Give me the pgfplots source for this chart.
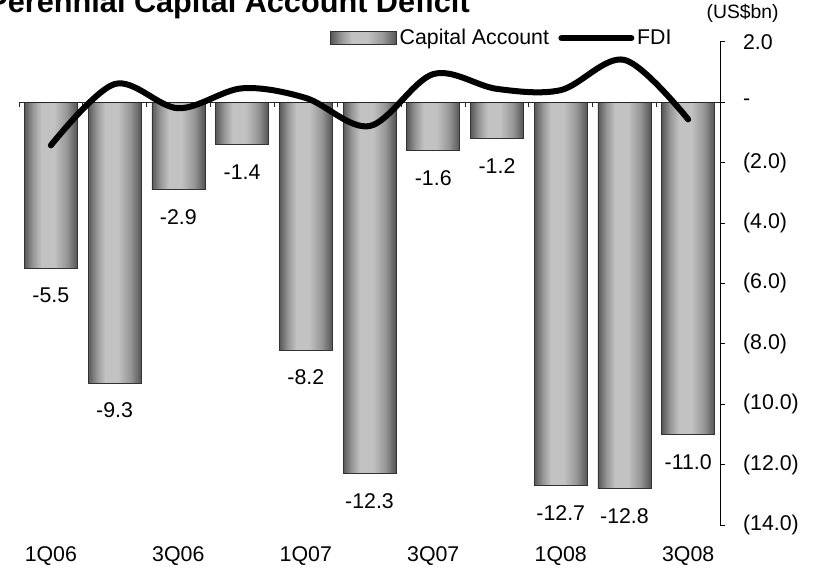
\documentclass[border=0pt]{standalone}
\usepackage{fontspec}
\setmainfont{Liberation Sans}
\usepackage{pgfplots}
\pgfplotsset{compat=1.18}

\definecolor{barL}{RGB}{88,88,88}
\definecolor{barM}{RGB}{150,150,150}
\definecolor{barH}{RGB}{194,194,194}
\definecolor{barM2}{RGB}{150,150,150}
\definecolor{barR}{RGB}{84,84,84}
\pgfdeclarehorizontalshading{barshade}{100bp}{color(0bp)=(barL); color(25bp)=(barL); color(33bp)=(barM); color(41bp)=(barH); color(53bp)=(barH); color(65bp)=(barM2); color(75bp)=(barR); color(100bp)=(barR)}

\pgfplotsset{
  cabar/.style={ybar, bar width=39.75pt, bar shift=0pt, draw=black!80, line width=0.5pt,
    shade, shading=barshade, forget plot,
    nodes near coords, point meta=explicit symbolic,
    every node near coord/.append style={anchor=center, yshift=-20.5pt, text=black}},
  fdiline/.style={black, line width=4.5pt, line cap=round, smooth, tension=0.55,
    legend image code/.code={\draw[##1] (0pt,0pt) -- (52.5pt,0pt);}},
}

\begin{document}
\begin{tikzpicture}
\useasboundingbox (0,0) rectangle (612.75pt,428.25pt);
\begin{axis}[
  at={(14.25pt,34.5pt)}, anchor=south west,
  x=47.8pt, y=22.65pt,
  xmin=-0.5, xmax=10.5, ymin=-14, ymax=2,
  font=\fontsize{16}{19}\selectfont,
  axis x line*=bottom, x axis line style={draw=none},
  xtick={0,2,4,6,8,10},
  xticklabels={1Q06,3Q06,1Q07,3Q07,1Q08,3Q08},
  major x tick style={draw=none},
  xticklabel style={yshift=-9pt},
  axis y line*=right,
  y axis line style={line width=0.6pt},
  ytick={-14,-12,...,2},
  yticklabels={(14.0),(12.0),(10.0),(8.0),(6.0),(4.0),(2.0),-,2.0},
  tick align=outside,
  major tick length=3.75pt,
  ytick style={line width=0.6pt, black},
  yticklabel style={anchor=west, xshift=10pt},
  legend style={at={(0.4437,1.0076)}, anchor=west, draw=none, fill=none,
    inner sep=0pt, font=\fontsize{16}{19}\selectfont,
    /tikz/every even column/.append style={column sep=5pt}},
  legend columns=2,
  clip=false,
]
\addplot[cabar] coordinates {(0,-5.5) [-5.5]};
\addplot[cabar] coordinates {(1,-9.3) [-9.3]};
\addplot[cabar] coordinates {(2,-2.9) [-2.9]};
\addplot[cabar] coordinates {(3,-1.4) [-1.4]};
\addplot[cabar] coordinates {(4,-8.2) [-8.2]};
\addplot[cabar] coordinates {(5,-12.3) [-12.3]};
\addplot[cabar] coordinates {(6,-1.6) [-1.6]};
\addplot[cabar] coordinates {(7,-1.2) [-1.2]};
\addplot[cabar] coordinates {(8,-12.7) [-12.7]};
\addplot[cabar] coordinates {(9,-12.8) [-12.8]};
\addplot[cabar] coordinates {(10,-11.0) [-11.0]};

\draw[black!85, line width=0.6pt] (axis cs:-0.5,0) -- (axis cs:10.5,0);
\pgfplotsinvokeforeach{-0.5,0.5,...,9.5}{
  \draw[black!85, line width=0.6pt] (axis cs:#1,0) -- ++(0pt,-3.5pt);
}

\addlegendimage{legend image code/.code={\draw[draw=black!80, line width=0.5pt, shade, shading=barshade] (0pt,-4.9pt) rectangle (49.5pt,4.9pt);}}
\addlegendentry{Capital Account}

\addplot[fdiline]
  coordinates {(0,-1.43) (1,0.60) (2,-0.20) (3,0.46) (4,0.14) (5,-0.79)
               (6,0.93) (7,0.44) (8,0.40) (9,1.40) (10,-0.57)};
\addlegendentry{FDI}
\end{axis}
\node[anchor=base east, inner sep=0pt, font=\bfseries\fontsize{23}{26}\selectfont]
  at (352.5pt,418.5pt) {Perennial Capital Account Deficit};
\node[anchor=center, inner sep=0pt, font=\fontsize{14.5}{17}\selectfont]
  at (557pt,418.5pt) {(US\$bn)};
\end{tikzpicture}
\end{document}
